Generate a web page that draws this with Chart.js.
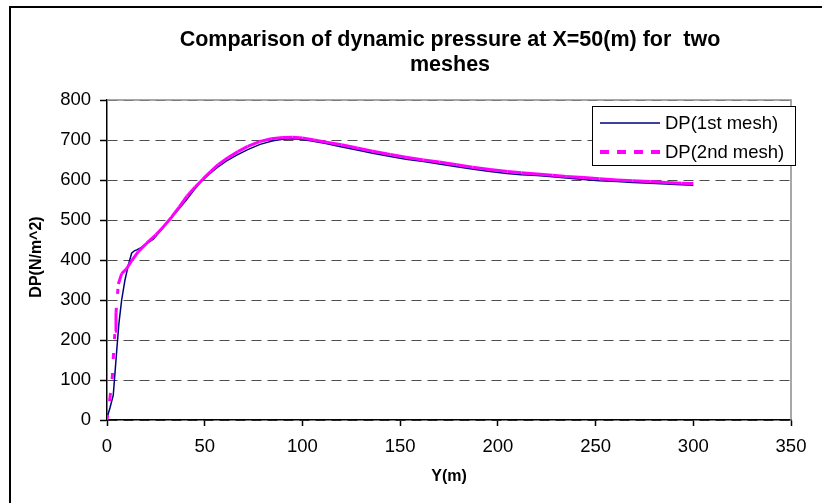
<!DOCTYPE html>
<html>
<head>
<meta charset="utf-8">
<script src="https://cdn.jsdelivr.net/npm/chart.js@4.4.1/dist/chart.umd.min.js"></script>
<style>
  html, body { margin: 0; padding: 0; background: #fff; }
  #wrap { width: 822px; height: 503px; }
</style>
</head>
<body>
<div id="wrap"><canvas id="dpChart" width="822" height="503"></canvas></div>
<script>
// values
const yMesh1 = [0, 1.5, 3.2, 5, 6.1, 7.5, 9.2, 10.9, 12.6, 14, 15.5, 17.8, 20, 23.7, 28, 32.2, 36, 40.8, 44, 47.6, 52, 56.1, 61, 66.4, 72, 78.3, 85, 90, 95, 100, 104, 112, 119, 128, 136, 145, 153, 162, 170, 179, 187.5, 196, 204.6, 212, 220, 228, 235, 244, 252, 261, 269, 278, 286, 294, 300];
const dpMesh1 = [5, 30, 62, 175, 242, 300, 350, 387, 417, 423, 426, 432, 440, 452, 477, 501, 523, 551, 572, 593, 613, 630, 647, 662, 676, 689, 698, 702, 703, 701, 698, 691, 684, 675, 667, 659, 652, 646, 640, 633, 627, 621, 616, 613, 611, 608, 605, 601, 598, 596, 594, 592, 590, 588, 587];

const yMesh2 = [0, 1.5, 2.7, 3.2, 4.1, 4.6, 5.8, 7.5, 10, 12.6, 16, 20.3, 25, 29, 33, 37, 41, 45, 49, 53, 57, 62, 67, 72, 78, 84, 90, 95, 100, 106, 113, 120, 128, 136, 145, 153, 162, 170, 179, 187, 196, 205, 212, 220, 228, 235, 244, 252, 261, 269, 278, 286, 294, 300];
const dpMesh2 = [0, 55, 105, 155, 222, 268, 340, 366, 378, 398, 421, 442, 463, 484, 507, 533, 560, 582, 602, 621, 639, 656, 671, 684, 696, 703, 706, 707, 705, 700, 694, 688, 680, 672, 664, 657, 650, 645, 638, 632, 626, 621, 618, 615, 612, 609, 606, 603, 600, 598, 596, 594, 592, 591];

const xTickValues = [0, 50, 100, 150, 200, 250, 300, 350];
const yTickValues = [0, 100, 200, 300, 400, 500, 600, 700, 800];
const seriesNames = ['DP(1st mesh)', 'DP(2nd mesh)'];
const titleLines = ['Comparison of dynamic pressure at X=50(m) for  two', 'meshes'];
const xAxisTitle = 'Y(m)';
const yAxisTitle = 'DP(N/m^2)';

const FONT = "'Liberation Sans', Arial, sans-serif";
const NAVY = '#000080';
const MAGENTA = '#ff00ff';

function toPoints(xs, ys) {
  return xs.map((x, i) => ({ x: x, y: ys[i] }));
}

// frame, title, axis titles, plot border and legend box
const chartDecor = {
  id: 'chartDecor',
  beforeDraw(chart) {
    const ctx = chart.ctx;
    ctx.save();
    ctx.fillStyle = '#fff';
    ctx.fillRect(0, 0, chart.width, chart.height);
    ctx.restore();
  },
  beforeDatasetsDraw(chart) {
    const { ctx, chartArea: a } = chart;
    ctx.save();
    ctx.strokeStyle = '#8c8c8c';
    ctx.lineWidth = 1.5;
    ctx.beginPath();
    ctx.moveTo(a.left, a.top);
    ctx.lineTo(a.right, a.top);
    ctx.lineTo(a.right, a.bottom);
    ctx.stroke();
    ctx.restore();
  },
  afterDraw(chart) {
    const { ctx, chartArea: a } = chart;
    const cx = (a.left + a.right) / 2;
    ctx.save();

    // outer frame (only left/top visible)
    ctx.strokeStyle = '#000';
    ctx.lineWidth = 2;
    ctx.beginPath();
    ctx.moveTo(10, chart.height);
    ctx.lineTo(10, 7);
    ctx.lineTo(chart.width, 7);
    ctx.stroke();

    // title
    ctx.fillStyle = '#000';
    ctx.textAlign = 'center';
    ctx.textBaseline = 'middle';
    ctx.font = 'bold 21.5px ' + FONT;
    ctx.fillText(titleLines[0], cx + 1, 40);
    ctx.fillText(titleLines[1], cx + 1, 65);

    // axis titles
    ctx.font = 'bold 16px ' + FONT;
    ctx.fillText(xAxisTitle, cx, 477);
    ctx.save();
    ctx.translate(37, (a.top + a.bottom) / 2 - 3);
    ctx.rotate(-Math.PI / 2);
    ctx.fillText(yAxisTitle, 0, 0);
    ctx.restore();

    // legend
    const lx = 592, ly = 106, lw = 203, lh = 59;
    ctx.fillStyle = '#fff';
    ctx.fillRect(lx, ly, lw, lh);
    ctx.strokeStyle = '#000';
    ctx.lineWidth = 1;
    ctx.strokeRect(lx + 0.5, ly + 0.5, lw, lh);

    const rows = [ly + 17, ly + 46];
    chart.data.datasets.forEach((ds, i) => {
      ctx.save();
      ctx.strokeStyle = ds.borderColor;
      ctx.lineWidth = i === 0 ? 1.5 : 4;
      ctx.setLineDash(i === 0 ? [] : [9, 8]);
      ctx.beginPath();
      ctx.moveTo(600, rows[i]);
      ctx.lineTo(660, rows[i]);
      ctx.stroke();
      ctx.restore();
      ctx.fillStyle = '#000';
      ctx.textAlign = 'left';
      ctx.textBaseline = 'middle';
      ctx.font = '18.5px ' + FONT;
      ctx.fillText(ds.label, 665, rows[i] + 1);
    });
    ctx.restore();
  }
};

const ctx = document.getElementById('dpChart').getContext('2d');
new Chart(ctx, {
  type: 'line',
  data: {
    datasets: [
      {
        label: seriesNames[0],
        data: toPoints(yMesh1, dpMesh1),
        borderColor: NAVY,
        borderWidth: 1.5,
        pointRadius: 0,
        fill: false,
        tension: 0,
        order: 2
      },
      {
        label: seriesNames[1],
        data: toPoints(yMesh2, dpMesh2),
        borderColor: MAGENTA,
        borderWidth: 3,
        pointRadius: 0,
        fill: false,
        tension: 0,
        order: 1,
        // dash restarts at each point, so long steep pieces look dashed and dense ones solid
        segment: {
          borderDash: c => Math.hypot(c.p1.x - c.p0.x, c.p1.y - c.p0.y) > 19 ? [5, 14] : [],
          borderDashOffset: c => (c.p0DataIndex % 2 ? 0.01 : 0)
        }
      }
    ]
  },
  options: {
    responsive: false,
    devicePixelRatio: 1,
    animation: false,
    layout: { padding: { left: 10, top: 100, right: 31, bottom: 0 } },
    plugins: {
      legend: { display: false },
      title: { display: false },
      tooltip: { enabled: false }
    },
    scales: {
      x: {
        type: 'linear',
        min: xTickValues[0],
        max: xTickValues[xTickValues.length - 1],
        afterBuildTicks: s => { s.ticks = xTickValues.map(v => ({ value: v })); },
        afterFit: s => { s.height = 83; },
        grid: {
          display: true,
          drawOnChartArea: false,
          drawTicks: true,
          tickLength: 6,
          tickColor: '#000',
          tickWidth: 1.5
        },
        border: { display: true, color: '#000', width: 1.5 },
        ticks: {
          color: '#000',
          font: { family: FONT, size: 18.5 },
          padding: 10,
          maxRotation: 0,
          autoSkip: false
        }
      },
      y: {
        min: yTickValues[0],
        max: yTickValues[yTickValues.length - 1],
        afterBuildTicks: s => { s.ticks = yTickValues.map(v => ({ value: v })); },
        afterFit: s => { s.width = 97; },
        grid: {
          display: true,
          drawOnChartArea: true,
          drawTicks: true,
          color: '#4d4d4d',
          lineWidth: 1,
          tickLength: 7,
          tickColor: '#000',
          tickWidth: 1.5,
          tickBorderDash: []
        },
        border: { display: true, color: '#000', width: 1.5, dash: [10, 6] },
        ticks: {
          color: '#000',
          font: { family: FONT, size: 18.5 },
          padding: 9,
          autoSkip: false
        }
      }
    }
  },
  plugins: [chartDecor]
});
</script>
</body>
</html>
